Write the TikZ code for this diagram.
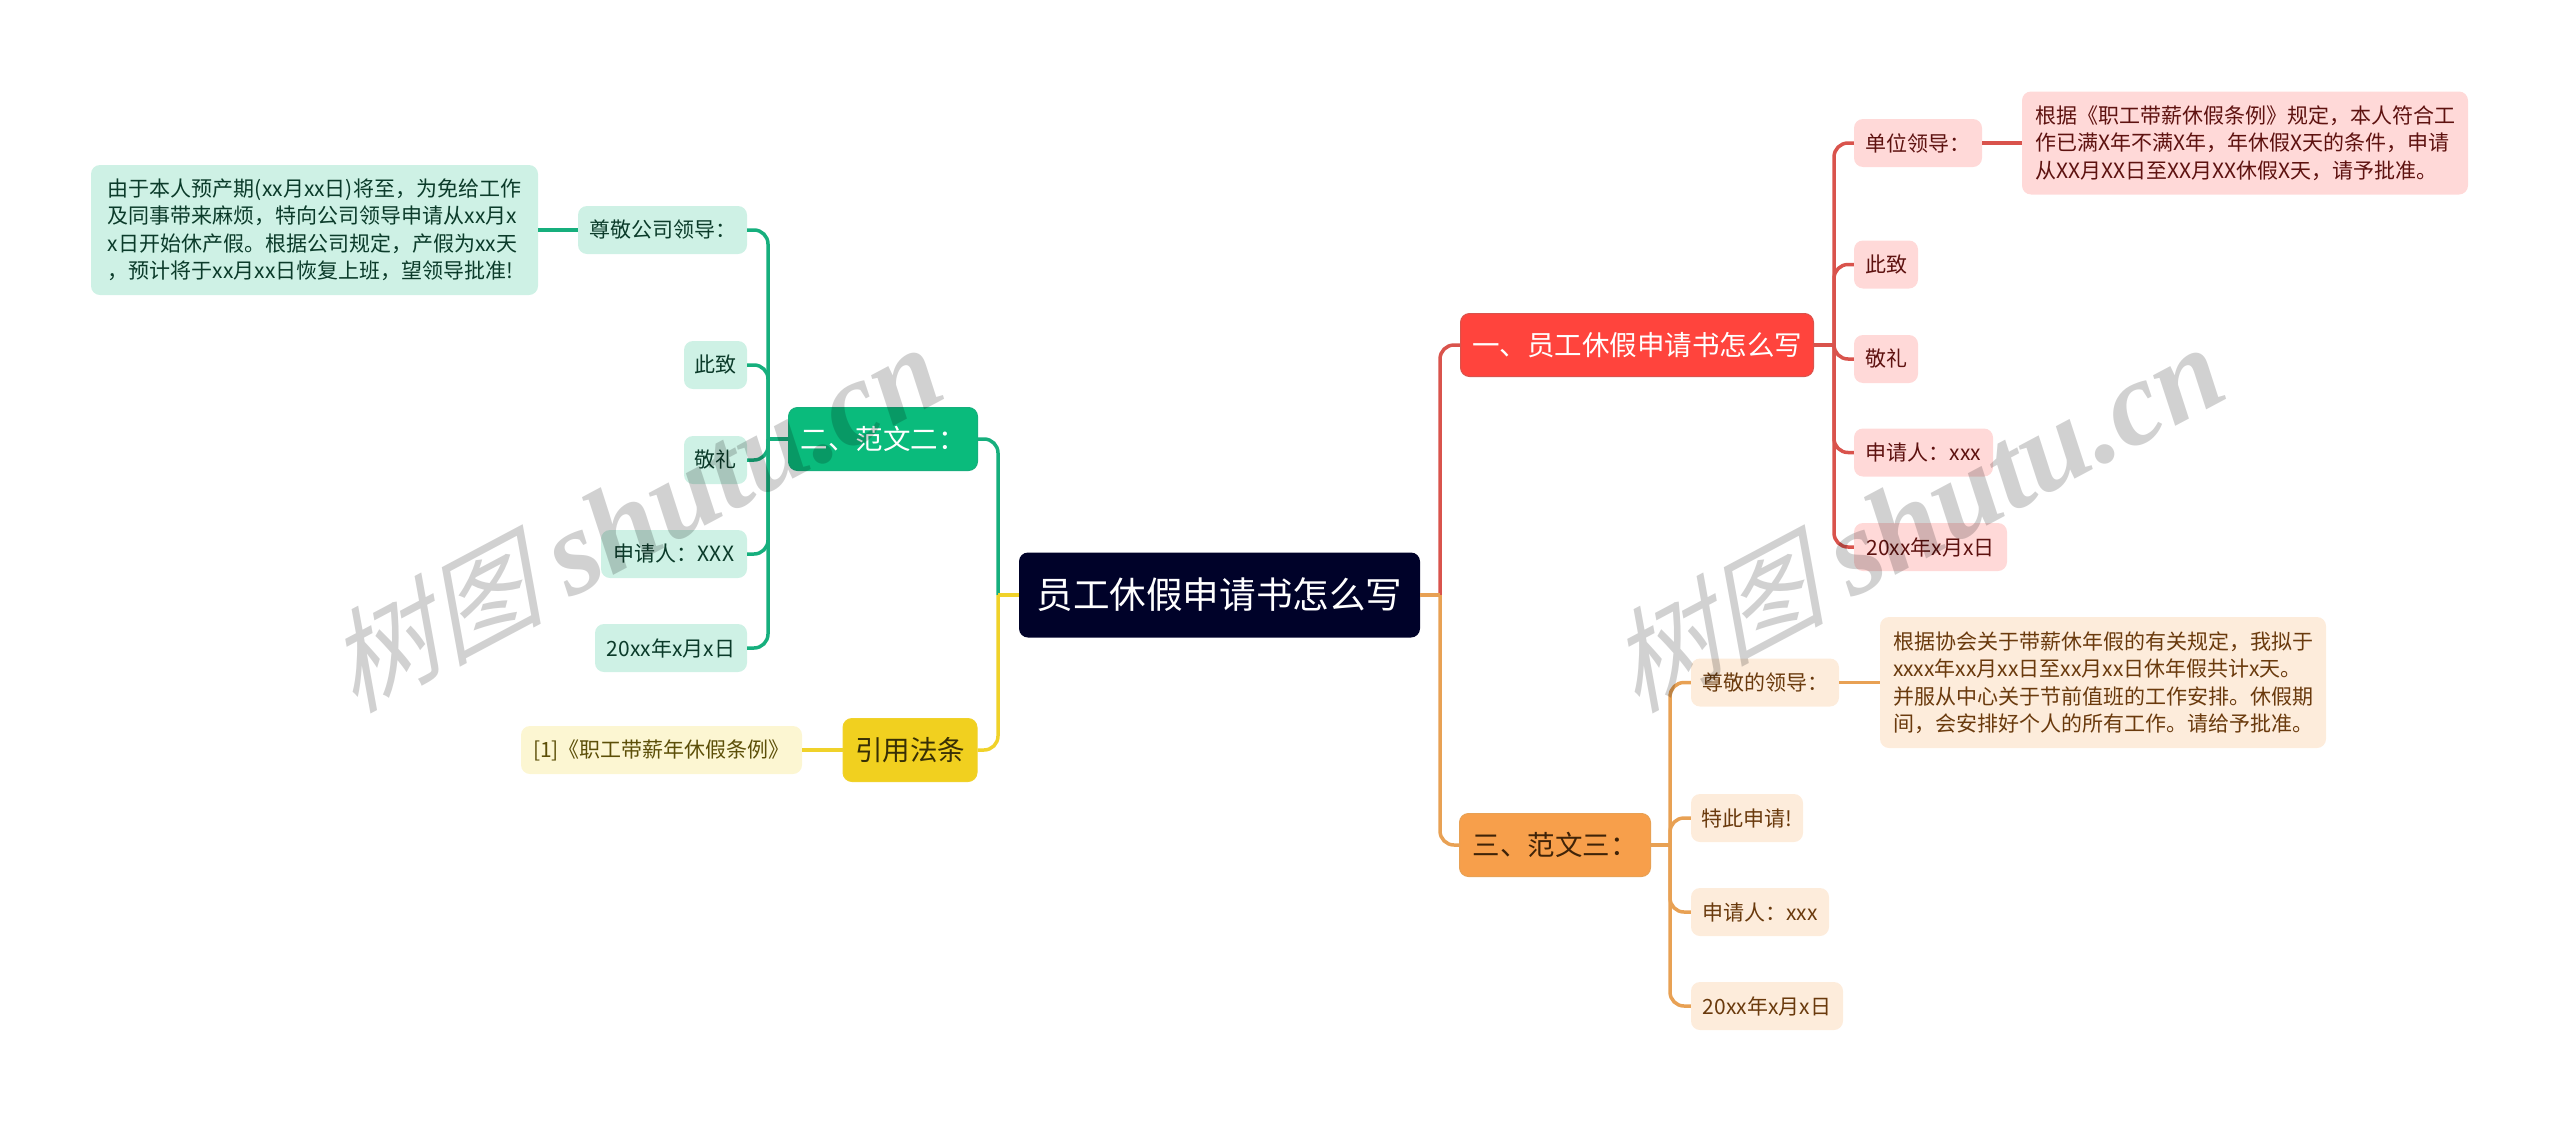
\documentclass[tikz,border=0pt]{standalone}
\usepackage{xcolor}
\usepackage{fontspec}
\setmainfont{Noto Sans CJK SC}
\newfontfamily\markcjk[FakeSlant=0.32]{Noto Sans CJK SC}
\newfontfamily\marklatin{Liberation Serif}
\newcommand{\marktext}{{\fontsize{110}{120}\markcjk\selectfont 树图}\hspace{26pt}{\fontsize{120}{130}\marklatin\selectfont\bfseries\itshape shutu.cn}}
\usetikzlibrary{positioning, calc}
\definecolor{rootblue}{HTML}{000229}
\definecolor{redmain}{HTML}{FF443D}
\definecolor{redsoft}{HTML}{FFD9D8}
\definecolor{redline}{HTML}{D9534C}
\definecolor{redtext}{HTML}{5E1210}
\definecolor{greenmain}{HTML}{0ABB7C}
\definecolor{greensoft}{HTML}{CEF1E5}
\definecolor{greenline}{HTML}{16AF7D}
\definecolor{greentext}{HTML}{0B3B2A}
\definecolor{yellowmain}{HTML}{F1D01F}
\definecolor{yellowsoft}{HTML}{FCF6D2}
\definecolor{yellowline}{HTML}{F0D22A}
\definecolor{yellowtext}{HTML}{5C4F08}
\definecolor{orangemain}{HTML}{F79F4B}
\definecolor{orangesoft}{HTML}{FDECDB}
\definecolor{orangeline}{HTML}{E8A154}
\definecolor{orangetext}{HTML}{6A3A0D}

\begin{document}
\begin{tikzpicture}[
    x=1pt, y=-1pt,
    box/.style={rounded corners=9pt, inner sep=0pt, align=left, font=\fontsize{21}{27.5}\selectfont},
    rootbox/.style={box, fill=rootblue, text=white, minimum width=401pt, minimum height=85pt, font=\fontsize{36.6}{42}\selectfont},
    topic/.style={box, line width=1pt, minimum height=63pt, font=\fontsize{27.5}{34}\selectfont},
    leaf/.style={box, minimum height=48pt},
    redleaf/.style={fill=redsoft, text=redtext},
    greenleaf/.style={fill=greensoft, text=greentext},
    yellowleaf/.style={fill=yellowsoft, text=yellowtext},
    orangeleaf/.style={fill=orangesoft, text=orangetext},
    link/.style={line width=3.5pt, rounded corners=14pt},
    stamp/.style={rotate=28, text=black, text opacity=0.18, inner sep=0pt}
]
    \useasboundingbox (0,0) rectangle (2560,1122);

    % junctions
    \coordinate (leftjoin) at (998,595);
    \coordinate (rightjoin) at (1440,595);
    \coordinate (greenjoin) at (768,439);
    \coordinate (redjoin) at (1834,345);
    \coordinate (orangejoin) at (1670,845);

    \node[rootbox] (root) at (1219.5,595) {员工休假申请书怎么写};

    \node[topic, draw=redline, fill=redmain, text=white, minimum width=353pt] (topicone) at (1637,345) {一、员工休假申请书怎么写};
    \node[leaf, redleaf, minimum width=128pt] (oneboss) at (1918,143) {单位领导：};
    \node[box, redleaf, minimum width=446pt, minimum height=103pt] (onetext) at (2245,143) {根据《职工带薪休假条例》规定，本人符合工\\作已满X年不满X年，年休假X天的条件，申请\\从XX月XX日至XX月XX休假X天，请予批准。};
    \node[leaf, redleaf, minimum width=64pt] (oneci) at (1886,264.5) {此致};
    \node[leaf, redleaf, minimum width=64pt] (onejing) at (1886,359) {敬礼};
    \node[leaf, redleaf, minimum width=139pt] (onename) at (1923.5,452.5) {申请人：xxx};
    \node[leaf, redleaf, minimum width=153pt] (onedate) at (1930.5,547) {20xx年x月x日};

    \node[topic, draw=greenline, fill=greenmain, text=white, minimum width=189pt] (topictwo) at (883,439) {二、范文二：};
    \node[leaf, greenleaf, minimum width=169pt] (twoboss) at (662.5,230) {尊敬公司领导：};
    \node[box, greenleaf, minimum width=447pt, minimum height=130pt] (twotext) at (314.5,230) {由于本人预产期(xx月xx日)将至，为免给工作\\及同事带来麻烦，特向公司领导申请从xx月x\\x日开始休产假。根据公司规定，产假为xx天\\，预计将于xx月xx日恢复上班，望领导批准!};
    \node[leaf, greenleaf, minimum width=63pt] (twoci) at (715.5,365) {此致};
    \node[leaf, greenleaf, minimum width=63pt] (twojing) at (715.5,460) {敬礼};
    \node[leaf, greenleaf, minimum width=146pt] (twoname) at (674,554) {申请人：XXX};
    \node[leaf, greenleaf, minimum width=152pt] (twodate) at (671,648) {20xx年x月x日};

    \node[topic, draw=orangeline, fill=orangemain, text=orangetext!60!black, minimum width=191pt] (topicthree) at (1555,845) {三、范文三：};
    \node[leaf, orangeleaf, minimum width=148pt] (threeboss) at (1765,682.5) {尊敬的领导：};
    \node[box, orangeleaf, minimum width=446pt, minimum height=131pt] (threetext) at (2103,682.5) {根据协会关于带薪休年假的有关规定，我拟于\\xxxx年xx月xx日至xx月xx日休年假共计x天。\\并服从中心关于节前值班的工作安排。休假期\\间，会安排好个人的所有工作。请给予批准。};
    \node[leaf, orangeleaf, minimum width=112pt] (threeapply) at (1747,818) {特此申请!};
    \node[leaf, orangeleaf, minimum width=138pt] (threename) at (1760,912) {申请人：xxx};
    \node[leaf, orangeleaf, minimum width=152pt] (threedate) at (1767,1006) {20xx年x月x日};

    \node[topic, draw=yellowline, fill=yellowmain, text=yellowtext!60!black, minimum width=134pt] (topiclaw) at (910,750) {引用法条};
    \node[leaf, yellowleaf, minimum width=281pt] (lawtext) at (661.5,750) {[1]《职工带薪年休假条例》};

    % red branch
    \draw[link, redline] (rightjoin) |- (topicone.west);
    \draw[link, redline] (topicone.east) -- (redjoin);
    \foreach \leafname in {oneboss, oneci, onejing, onename, onedate}
        \draw[link, redline] (redjoin) |- (\leafname.west);
    \draw[link, redline] (oneboss.east) -- (onetext.west);

    % orange branch
    \draw[link, orangeline] (rightjoin) |- (topicthree.west);
    \draw[link, orangeline] (root.east) -- (rightjoin);
    \draw[link, orangeline] (topicthree.east) -- (orangejoin);
    \foreach \leafname in {threeboss, threeapply, threename, threedate}
        \draw[link, orangeline] (orangejoin) |- (\leafname.west);
    \draw[link, orangeline] (threeboss.east) -- (threetext.west);

    % green branch
    \draw[link, greenline] (leftjoin) |- (topictwo.east);
    \draw[link, greenline] (topictwo.west) -- (greenjoin);
    \foreach \leafname in {twoboss, twoci, twojing, twoname, twodate}
        \draw[link, greenline] (greenjoin) |- (\leafname.east);
    \draw[link, greenline] (twoboss.west) -- (twotext.east);

    % yellow branch
    \draw[link, yellowline] (leftjoin) |- (topiclaw.east);
    \draw[link, yellowline] (root.west) -- (leftjoin);
    \draw[link, yellowline] (topiclaw.west) -- (lawtext.east);

    % watermarks
    \node[stamp] (markleft) at (632,518) {\marktext};
    \node[stamp] (markright) at (1914,518) {\marktext};
\end{tikzpicture}
\end{document}
